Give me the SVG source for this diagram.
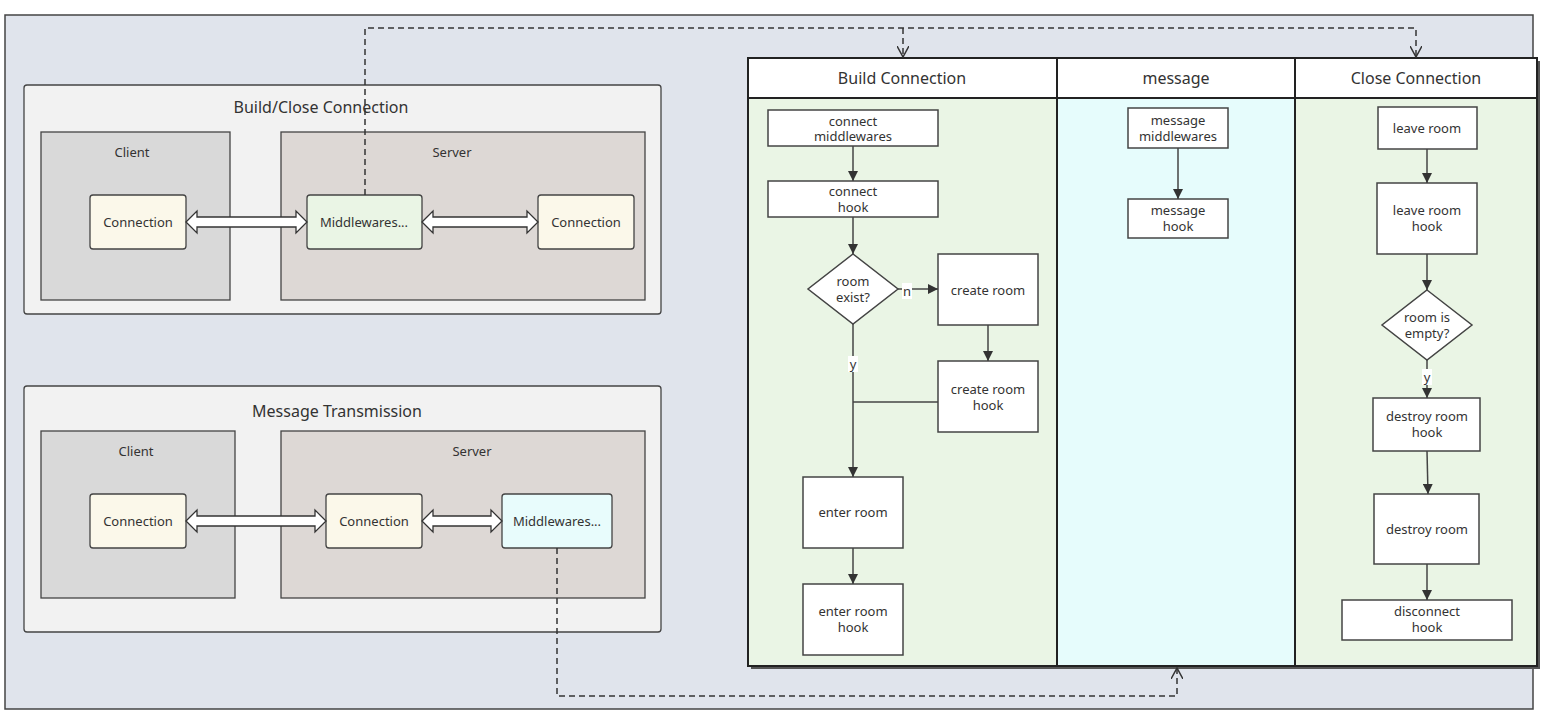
<svg xmlns="http://www.w3.org/2000/svg" width="1567" height="719" viewBox="0 0 1567 719">
<defs>
<style>
text{font-family:"Noto Sans","Open Sans",sans-serif;fill:#333;text-anchor:middle;dominant-baseline:central}
.t{font-size:13px}.h{font-size:16px}.s{font-size:13px}
.box{fill:#fff;stroke:#444;stroke-width:1.5}
.line{stroke:#444;stroke-width:1.5;fill:none}
.dash{stroke:#333;stroke-width:1.5;fill:none;stroke-dasharray:6 4}
.ba{fill:#fff;stroke:#333;stroke-width:1.3}
</style>
<marker id="a" viewBox="0 0 10 10" refX="10" refY="5" markerWidth="10" markerHeight="10" markerUnits="userSpaceOnUse" orient="auto"><path d="M0,0 L10,5 L0,10 Z" fill="#333"/></marker>
<marker id="o" viewBox="0 0 12 12" refX="11" refY="6" markerWidth="12" markerHeight="12" markerUnits="userSpaceOnUse" orient="auto"><path d="M0,0 L11,6 L0,12" fill="none" stroke="#333" stroke-width="1.5"/></marker>
</defs>
<rect width="1567" height="719" fill="#fff"/>
<rect x="5" y="15" width="1528" height="694" fill="#e0e4ec" stroke="#444" stroke-width="1.5"/>
<g id="build-close">
<rect x="24" y="85" width="637" height="229" rx="3" fill="#f2f2f2" stroke="#444" stroke-width="1.3"/>
<text x="321" y="107" class="h">Build/Close Connection</text>
<rect x="41" y="132" width="189" height="168" fill="#d9d9d9" stroke="#444" stroke-width="1.3"/>
<text x="132" y="152" class="s">Client</text>
<rect x="281" y="132" width="364" height="168" fill="#ddd8d5" stroke="#444" stroke-width="1.3"/>
<text x="452" y="152" class="s">Server</text>
</g>
<g id="bc-conn1"><rect x="90" y="195" width="96" height="54" rx="3" fill="#fbf8ea" stroke="#444" stroke-width="1.3"/><text x="138" y="222" class="t">Connection</text></g>
<g id="bc-mw"><rect x="307" y="195" width="115" height="54" rx="3" fill="#eaf5e5" stroke="#444" stroke-width="1.3"/><text x="364" y="222" class="t">Middlewares...</text></g>
<g id="bc-conn2"><rect x="538" y="195" width="96" height="54" rx="3" fill="#fbf8ea" stroke="#444" stroke-width="1.3"/><text x="586" y="222" class="t">Connection</text></g>
<g id="msg-trans">
<rect x="24" y="386" width="637" height="246" rx="3" fill="#f2f2f2" stroke="#444" stroke-width="1.3"/>
<text x="337" y="411" class="h">Message Transmission</text>
<rect x="41" y="431" width="194" height="167" fill="#d9d9d9" stroke="#444" stroke-width="1.3"/>
<text x="136" y="451" class="s">Client</text>
<rect x="281" y="431" width="364" height="167" fill="#ddd8d5" stroke="#444" stroke-width="1.3"/>
<text x="472" y="451" class="s">Server</text>
</g>
<g id="mt-conn1"><rect x="90" y="494" width="96" height="54" rx="3" fill="#fbf8ea" stroke="#444" stroke-width="1.3"/><text x="138" y="521" class="t">Connection</text></g>
<g id="mt-conn2"><rect x="326" y="494" width="96" height="54" rx="3" fill="#fbf8ea" stroke="#444" stroke-width="1.3"/><text x="374" y="521" class="t">Connection</text></g>
<g id="mt-mw"><rect x="502" y="494" width="110" height="54" rx="3" fill="#e8fcfc" stroke="#444" stroke-width="1.3"/><text x="557" y="521" class="t">Middlewares...</text></g>
<g id="lanes">
<rect x="751" y="61" width="789" height="608" fill="#555"/>
<rect x="748" y="58" width="309" height="608" fill="#eaf5e5" stroke="#222" stroke-width="2"/>
<rect x="1057" y="58" width="238" height="608" fill="#e6fcfc" stroke="#222" stroke-width="2"/>
<rect x="1295" y="58" width="242" height="608" fill="#eaf5e5" stroke="#222" stroke-width="2"/>
<rect x="748" y="58" width="309" height="40" fill="#fff" stroke="#222" stroke-width="2"/>
<rect x="1057" y="58" width="238" height="40" fill="#fff" stroke="#222" stroke-width="2"/>
<rect x="1295" y="58" width="242" height="40" fill="#fff" stroke="#222" stroke-width="2"/>
<text x="902" y="78" class="h">Build Connection</text>
<text x="1176" y="78" class="h">message</text>
<text x="1416" y="78" class="h">Close Connection</text>
</g>
<g id="n1"><rect class="box" x="768" y="110" width="170" height="36"/><text x="853" y="121" class="t">connect</text><text x="853" y="136" class="t">middlewares</text></g>
<g id="n2"><rect class="box" x="768" y="181" width="170" height="36"/><text x="853" y="191" class="t">connect</text><text x="853" y="207" class="t">hook</text></g>
<g id="n3"><path class="box" d="M853,254 L898,289 L853,324 L808,289 Z"/><text x="853" y="281" class="t">room</text><text x="853" y="297" class="t">exist?</text></g>
<g id="n4"><rect class="box" x="938" y="254" width="100" height="71"/><text x="988" y="290" class="t">create room</text></g>
<g id="n5"><rect class="box" x="938" y="361" width="100" height="71"/><text x="988" y="389" class="t">create room</text><text x="988" y="405" class="t">hook</text></g>
<g id="n6"><rect class="box" x="803" y="477" width="100" height="71"/><text x="853" y="512" class="t">enter room</text></g>
<g id="n7"><rect class="box" x="803" y="584" width="100" height="71"/><text x="853" y="611" class="t">enter room</text><text x="853" y="627" class="t">hook</text></g>
<g id="m1"><rect class="box" x="1128" y="108" width="100" height="40"/><text x="1178" y="120" class="t">message</text><text x="1178" y="136" class="t">middlewares</text></g>
<g id="m2"><rect class="box" x="1128" y="199" width="100" height="39"/><text x="1178" y="210" class="t">message</text><text x="1178" y="226" class="t">hook</text></g>
<g id="c1"><rect class="box" x="1378" y="107" width="99" height="42"/><text x="1427" y="128" class="t">leave room</text></g>
<g id="c2"><rect class="box" x="1377" y="183" width="100" height="71"/><text x="1427" y="210" class="t">leave room</text><text x="1427" y="226" class="t">hook</text></g>
<g id="c3"><path class="box" d="M1427,290 L1472,325 L1427,360 L1382,325 Z"/><text x="1427" y="317" class="t">room is</text><text x="1427" y="333" class="t">empty?</text></g>
<g id="c4"><rect class="box" x="1373" y="398" width="107" height="53"/><text x="1427" y="416" class="t">destroy room</text><text x="1427" y="432" class="t">hook</text></g>
<g id="c5"><rect class="box" x="1374" y="494" width="105" height="70"/><text x="1427" y="529" class="t">destroy room</text></g>
<g id="c6"><rect class="box" x="1342" y="600" width="170" height="40"/><text x="1427" y="611" class="t">disconnect</text><text x="1427" y="627" class="t">hook</text></g>
<g id="connectors">
<path class="ba" d="M186,222 L197,211 L197,217 L296,217 L296,211 L307,222 L296,233 L296,227 L197,227 L197,233 Z"/>
<path class="ba" d="M422,222 L433,211 L433,217 L527,217 L527,211 L538,222 L527,233 L527,227 L433,227 L433,233 Z"/>
<path class="ba" d="M186,521 L197,510 L197,516 L315,516 L315,510 L326,521 L315,532 L315,526 L197,526 L197,532 Z"/>
<path class="ba" d="M422,521 L433,510 L433,516 L491,516 L491,510 L502,521 L491,532 L491,526 L433,526 L433,532 Z"/>
<path class="dash" d="M365,195 V28 H1416 V57" marker-end="url(#o)"/>
<path class="dash" d="M903,28 V57" marker-end="url(#o)"/>
<path class="dash" d="M557,548 V696 H1177 V668" marker-end="url(#o)"/>
<path class="line" d="M853,146 V181" marker-end="url(#a)"/>
<path class="line" d="M853,217 V254" marker-end="url(#a)"/>
<path class="line" d="M898,289 H938" marker-end="url(#a)"/>
<path class="line" d="M988,325 V361" marker-end="url(#a)"/>
<path class="line" d="M853,324 V477" marker-end="url(#a)"/>
<path class="line" d="M938,402 H853"/>
<path class="line" d="M853,548 V584" marker-end="url(#a)"/>
<path class="line" d="M1178,148 V199" marker-end="url(#a)"/>
<path class="line" d="M1427,149 V183" marker-end="url(#a)"/>
<path class="line" d="M1427,254 V290" marker-end="url(#a)"/>
<path class="line" d="M1427,360 V398" marker-end="url(#a)"/>
<path class="line" d="M1427,451 L1428,494" marker-end="url(#a)"/>
<path class="line" d="M1427,564 V600" marker-end="url(#a)"/>
<rect x="902" y="283" width="10" height="16" fill="#fff"/><text x="907" y="291" class="t">n</text>
<rect x="848" y="356" width="10" height="16" fill="#fff"/><text x="853" y="364" class="t">y</text>
<rect x="1422" y="369" width="10" height="16" fill="#fff"/><text x="1427" y="377" class="t">y</text>
</g>
</svg>
